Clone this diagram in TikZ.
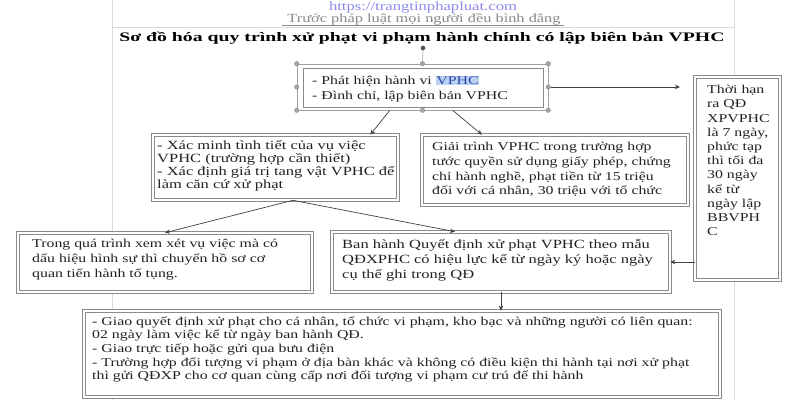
\documentclass[tikz,border=0pt]{standalone}
\usepackage{fontspec}
\setmainfont[FakeStretch=1.32]{Liberation Serif}
\newfontfamily\titlefont[FakeStretch=1.52]{Liberation Serif}
\usetikzlibrary{calc,arrows.meta}
\definecolor{guidec}{HTML}{DADADA}
\definecolor{boxc}{HTML}{8A8A8A}
\definecolor{txtc}{HTML}{222222}
\definecolor{urlc}{HTML}{8C8CF0}
\definecolor{mottoc}{HTML}{8A8A8A}
\definecolor{hlc}{HTML}{BCD0F2}
\definecolor{hltxt}{HTML}{2A4AA8}
\newcommand\mystrut{\rule{0pt}{1em}}
\tikzset{
  guide/.style={draw=guidec, line width=0.6pt},
  dbox/.style={draw=boxc, line width=0.6pt, double=white, double distance=2.6pt, fill=white, inner sep=0pt},
  sbox/.style={draw=boxc, line width=0.6pt, fill=white, inner sep=0pt},
  frame/.style={draw=boxc!80, line width=0.6pt, inner sep=0pt},
  handle/.style={circle, fill=gray!70, draw=gray, line width=0.3pt, inner sep=0pt, minimum size=4.5pt},
  txt/.style={anchor=north west, inner sep=0pt, align=left, text=txtc},
  conn/.style={draw=black!75, line width=0.7pt},
  arr/.style={conn, -{Stealth[length=5pt,width=4.5pt]}},
}
\begin{document}
\begin{tikzpicture}[x=1pt,y=-1pt]
\useasboundingbox (0,0) rectangle (800,400);
\fill[white] (0,0) rectangle (800,400);
% page guides
\draw[guide] (112,0) -- (112,400);
\draw[guide] (734,0) -- (734,400);
\draw[guide] (112,27) -- (734,27);
% header
\node[anchor=base, inner sep=0pt, text=urlc, font={\fontsize{12.6}{14}\selectfont}] (url) at (423,10.5) {https://trangtinphapluat.com};
\node[anchor=base, inner sep=0pt, text=mottoc, font={\fontsize{12.4}{14}\selectfont}] (motto) at (424,22.5) {Trước pháp luật mọi người đều bình đẳng};
\draw[draw=mottoc, line width=0.6pt] ($(motto.base west)+(-5,3)$) -- ($(motto.base east)+(3,3)$);
\node[anchor=base, inner sep=0pt, text=black, font={\titlefont\bfseries\fontsize{13}{15}\selectfont}] (title) at (422,41) {Sơ đồ hóa quy trình xử phạt vi phạm hành chính có lập biên bản VPHC};
% box 1 (selected)
\node[sbox, minimum width=240pt, minimum height=39pt] (b1) at (423,87.5) {};
\node[frame, minimum width=251pt, minimum height=46pt] (b1f) at (422.5,87) {};
\foreach \a in {north west,north,north east,east,south east,south,south west,west}
  \node[handle] (h-\a) at (b1f.\a) {};
\node[handle, fill=black!70] (rot) at (423,48) {};
\draw[frame] (rot) -- (h-north);
\node[txt, font={\fontsize{12}{15}\selectfont}] (t1) at (312,72.5) {\mystrut - Phát hiện hành vi {\setlength{\fboxsep}{0.5pt}\colorbox{hlc}{\textcolor{hltxt}{VPHC}}}\\ - Đình chỉ, lập biên bản VPHC};
% box 2
\node[dbox, minimum width=245pt, minimum height=65pt] (b2) at (275.5,167.5) {};
\node[txt, font={\fontsize{12.5}{13.2}\selectfont}] (t2) at (157,136.4) {\mystrut - Xác minh tình tiết của vụ việc\\VPHC (trường hợp cần thiết)\\- Xác định giá trị tang vật VPHC để\\làm căn cứ xử phạt};
% box 3
\node[dbox, minimum width=266pt, minimum height=70pt] (b3) at (555,170) {};
\node[txt, font={\fontsize{12}{14.7}\selectfont}] (t3) at (432,138.5) {\mystrut Giải trình VPHC trong trường hợp\\tước quyền sử dụng giấy phép, chứng\\chỉ hành nghề, phạt tiền từ 15 triệu\\đối với cá nhân, 30 triệu với tổ chức};
% right box
\node[dbox, minimum width=85pt, minimum height=203pt] (rb) at (737.5,178.5) {};
\node[txt, font={\fontsize{12}{14.2}\selectfont}] (trb) at (707,81.5) {\mystrut Thời hạn\\ra QĐ\\XPVPHC\\là 7 ngày,\\phức tạp\\thì tối đa\\30 ngày\\kể từ\\ngày lập\\BBVPH\\C};
% box 4
\node[dbox, minimum width=294pt, minimum height=59pt] (b4) at (165,262.5) {};
\node[txt, font={\fontsize{12}{15}\selectfont}] (t4) at (32,235.5) {\mystrut Trong quá trình xem xét vụ việc mà có\\dấu hiệu hình sự thì chuyển hồ sơ cơ\\quan tiến hành tố tụng.};
% box 5
\node[dbox, minimum width=338pt, minimum height=60pt] (b5) at (501,262) {};
\node[txt, font={\fontsize{12.5}{15}\selectfont}] (t5) at (342,235.5) {\mystrut Ban hành Quyết định xử phạt VPHC theo mẫu\\QĐXPHC có hiệu lực kể từ ngày ký hoặc ngày\\cụ thể ghi trong QĐ};
% box 6
\node[dbox, minimum width=636pt, minimum height=86pt] (b6) at (402,354) {};
\node[txt, font={\fontsize{12}{13.6}\selectfont}] (t6) at (92,313) {\mystrut - Giao quyết định xử phạt cho cá nhân, tổ chức vi phạm, kho bạc và những người có liên quan:\\02 ngày làm việc kể từ ngày ban hành QĐ.\\- Giao trực tiếp hoặc gửi qua bưu điện\\- Trường hợp đối tượng vi phạm ở địa bàn khác và không có điều kiện thi hành tại nơi xử phạt\\thì gửi QĐXP cho cơ quan cùng cấp nơi đối tượng vi phạm cư trú để thi hành};
% connectors
\coordinate (c1) at (680,87);
\draw[arr] (h-east) -- (c1);
\draw[arr] ($(b1f.south west)!0.37!(b1f.south east)$) -- ($(b2.north west)!0.886!(b2.north east)$);
\draw[arr] ($(b1f.south west)!0.62!(b1f.south east)$) -- ($(b3.north west)!0.226!(b3.north east)$);
\coordinate (b2s) at ($(b2.south west)!0.571!(b2.south east)$);
\draw[arr] (b2s) -- (b4.north);
\draw[arr] (b2s) -- ($(b5.north west)!0.364!(b5.north east)$);
\draw[arr] (rb.west |- b5.east) -- (b5.east);
\draw[arr] (b5.south) -- (b6.north -| b5.south);
\end{tikzpicture}
\end{document}
